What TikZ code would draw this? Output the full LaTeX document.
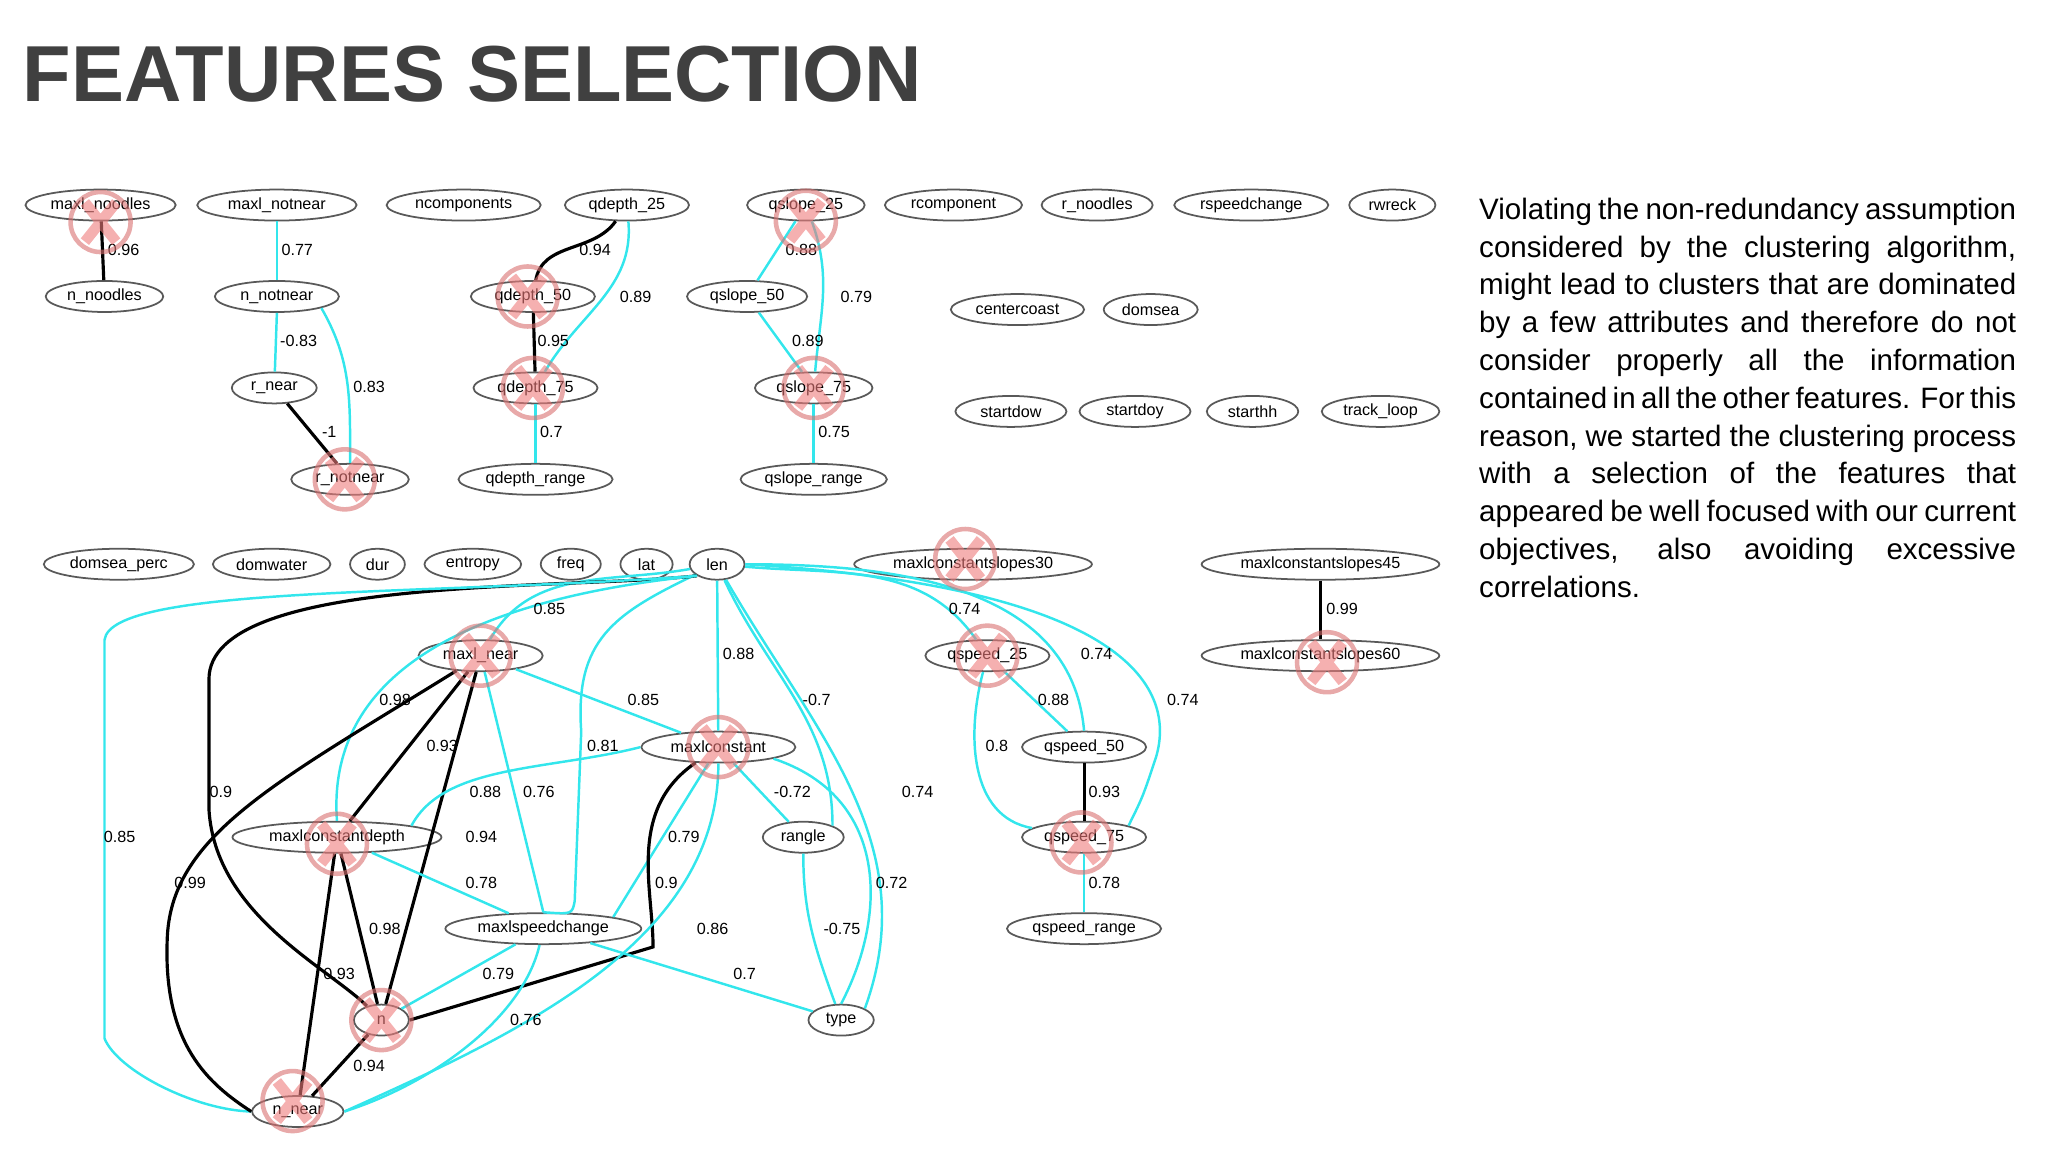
\documentclass[tikz,border=0pt]{standalone}
\usepackage{fontspec}
\setmainfont{Liberation Sans}
\usetikzlibrary{shapes.geometric,positioning,calc}
\definecolor{corr}{HTML}{33E6EC}
\definecolor{titlegray}{HTML}{404040}
\definecolor{xred}{HTML}{EE7B7B}
\definecolor{xring}{HTML}{D97070}
\tikzset{
  feat/.style={ellipse,draw=black!65,line width=0.5pt,inner sep=0pt,
    minimum height=0.31cm,minimum width=#1*0.01306cm,font=\fontsize{4.6}{5}\selectfont},
  feat/.default=60,
  lowcorr/.style={corr,line width=0.7pt},
  highcorr/.style={black,line width=0.9pt},
  lbl/.style={font=\fontsize{4.6}{5}\selectfont,inner sep=0pt,anchor=west},
}
\begin{document}
\begin{tikzpicture}[x=0.01306cm,y=-0.01306cm]
\useasboundingbox (0,0) rectangle (1568,882);
\node[anchor=base west,inner sep=0pt,text=titlegray,font=\fontsize{22.6}{23}\bfseries\selectfont] (title) at (17,78) {FEATURES SELECTION};
\node[anchor=north west,inner sep=0pt,text width=5.37cm,align=justify,
  font=\fontsize{8.4}{10.75}\selectfont] (text) at (1132,151)
  {Violating the non-redundancy assumption\linebreak considered by the clustering algorithm,\linebreak might lead to clusters that are dominated\linebreak by a few attributes and therefore do not\linebreak consider properly all the information\linebreak contained in all the other features. For this\linebreak reason, we started the clustering process\linebreak with a selection of the features that\linebreak appeared be well focused with our current\linebreak objectives, also avoiding excessive\linebreak correlations.};
% first block
\node[feat=115] (maxl_noodles) at (77,157) {maxl\_noodles};
\node[feat=122] (maxl_notnear) at (212,157) {maxl\_notnear};
\node[feat=118] (ncomponents) at (355,157) {ncomponents};
\node[feat=95] (qdepth_25) at (480,157) {qdepth\_25};
\node[feat=90] (qslope_25) at (617,157) {qslope\_25};
\node[feat=105] (rcomponent) at (730,157) {rcomponent};
\node[feat=85] (r_noodles) at (840,157) {r\_noodles};
\node[feat=118] (rspeedchange) at (958,157) {rspeedchange};
\node[feat=66] (rwreck) at (1066,157) {rwreck};
\node[feat=90] (n_noodles) at (80,227) {n\_noodles};
\node[feat=95] (n_notnear) at (212,227) {n\_notnear};
\node[feat=95] (qdepth_50) at (408,227) {qdepth\_50};
\node[feat=92] (qslope_50) at (572,227) {qslope\_50};
\node[feat=102] (centercoast) at (779,237) {centercoast};
\node[feat=72] (domsea) at (881,237) {domsea};
\node[feat=65] (r_near) at (210,297) {r\_near};
\node[feat=95] (qdepth_75) at (410,297) {qdepth\_75};
\node[feat=90] (qslope_75) at (623,297) {qslope\_75};
\node[feat=85] (startdow) at (774,315) {startdow};
\node[feat=85] (startdoy) at (869,315) {startdoy};
\node[feat=70] (starthh) at (959,315) {starthh};
\node[feat=90] (track_loop) at (1057,315) {track\_loop};
\node[feat=90] (r_notnear) at (268,367) {r\_notnear};
\node[feat=118] (qdepth_range) at (410,367) {qdepth\_range};
\node[feat=112] (qslope_range) at (623,367) {qslope\_range};
% second block
\node[feat=115] (domsea_perc) at (91,432) {domsea\_perc};
\node[feat=90] (domwater) at (208,432) {domwater};
\node[feat=42] (dur) at (289,432) {dur};
\node[feat=74] (entropy) at (362,432) {entropy};
\node[feat=46] (freq) at (437,432) {freq};
\node[feat=40] (lat) at (495,432) {lat};
\node[feat=42] (len) at (549,432) {len};
\node[feat=182] (slopes30) at (745,432) {maxlconstantslopes30};
\node[feat=182] (slopes45) at (1011,432) {maxlconstantslopes45};
\node[feat=95] (qspeed_25) at (756,502) {qspeed\_25};
\node[feat=182] (slopes60) at (1011,502) {maxlconstantslopes60};
\node[feat=95] (maxl_near) at (368,502) {maxl\_near};
\node[feat=118] (maxlconstant) at (550,572) {maxlconstant};
\node[feat=95] (qspeed_50) at (830,572) {qspeed\_50};
\node[feat=160] (maxlconstantdepth) at (258,641) {maxlconstantdepth};
\node[feat=62] (rangle) at (615,641) {rangle};
\node[feat=95] (qspeed_75) at (830,641) {qspeed\_75};
\node[feat=150] (maxlspeedchange) at (416,711) {maxlspeedchange};
\node[feat=118] (qspeed_range) at (830,711) {qspeed\_range};
\node[feat=42] (n) at (292,781) {n};
\node[feat=50] (type) at (644,781) {type};
\node[feat=70] (n_near) at (228,851) {n\_near};
% correlations
\draw[highcorr] (maxl_noodles) -- (n_noodles);
\draw[lowcorr] (maxl_notnear) -- (n_notnear);
\draw[lowcorr] (n_notnear.south) -- (r_near);
\draw[lowcorr] (n_notnear.south east) to[out=-60,in=90] (r_notnear.north);
\draw[highcorr] (r_near) -- (r_notnear);
\draw[highcorr] (qdepth_25) to[out=-125,in=80] (qdepth_50);
\draw[lowcorr] (qdepth_25) to[out=-85,in=60] (qdepth_75);
\draw[highcorr] (qdepth_50) -- (qdepth_75);
\draw[lowcorr] (qdepth_75) -- (qdepth_range);
\draw[lowcorr] (qslope_25) -- (qslope_50);
\draw[lowcorr] (qslope_25) to[out=-70,in=85] (qslope_75);
\draw[lowcorr] (qslope_50) -- (qslope_75);
\draw[lowcorr] (qslope_75) -- (qslope_range);
\draw[highcorr] (slopes45) -- (slopes60);
\draw[lowcorr] (len) to[out=-5,in=125] (qspeed_25);
\draw[lowcorr] (len) to[out=0,in=95] (qspeed_50.north);
\draw[lowcorr] (len.east) .. controls (870,450) and (900,530) .. (885,580) .. controls (875,610) .. (qspeed_75.north east);
\draw[lowcorr] (qspeed_25) -- (qspeed_50);
\draw[lowcorr] (qspeed_25) to[out=-105,in=170] (qspeed_75);
\draw[highcorr] (qspeed_50) -- (qspeed_75);
\draw[lowcorr] (qspeed_75) -- (qspeed_range);
\draw[lowcorr] (len) to[out=190,in=60] (maxl_near);
\draw[lowcorr] (len) -- (maxlconstant);
\draw[lowcorr] (len) to[out=-65,in=90] (rangle.north east);
\draw[lowcorr] (len) to[out=-60,in=70] (type.north east);
\draw[lowcorr] (len) .. controls (470,470) and (440,490) .. (445,560) -- (440,690) .. controls (438,700) .. (maxlspeedchange.north);
\draw[highcorr] (len.south west) .. controls (430,452) and (160,440) .. (160,520) -- (160,620) .. controls (165,700) and (250,740) .. (n);
\draw[lowcorr] (len.south west) .. controls (330,456) and (85,448) .. (80,490) -- (80,795) .. controls (90,820) and (150,850) .. (n_near.west);
\draw[lowcorr] (len.south west) .. controls (350,460) and (250,520) .. (maxlconstantdepth.north);
\draw[lowcorr] (maxl_near) -- (maxlconstant);
\draw[highcorr] (maxl_near) -- (maxlconstantdepth);
\draw[highcorr] (maxl_near) -- (n);
\draw[highcorr] (maxl_near) .. controls (210,600) and (130,640) .. (128,720) .. controls (125,800) and (160,830) .. (n_near.west);
\draw[lowcorr] (maxl_near) -- (maxlspeedchange.north);
\draw[lowcorr] (maxlconstant.west) .. controls (420,590) and (340,585) .. (maxlconstantdepth.north east);
\draw[lowcorr] (maxlconstantdepth) -- (maxlspeedchange);
\draw[highcorr] (maxlconstantdepth) -- (n);
\draw[highcorr] (maxlconstantdepth) -- (n_near);
\draw[lowcorr] (maxlconstant) -- (maxlspeedchange.north east);
\draw[highcorr] (maxlconstant) .. controls (480,620) and (500,680) .. (500,725) -- (n.east);
\draw[lowcorr] (maxlconstant) .. controls (550,720) and (400,790) .. (n_near.east);
\draw[lowcorr] (maxlconstant) -- (rangle);
\draw[lowcorr] (maxlconstant.south east) .. controls (680,610) and (680,700) .. (type.north);
\draw[lowcorr] (maxlspeedchange) -- (n);
\draw[lowcorr] (maxlspeedchange) .. controls (400,780) and (330,830) .. (n_near.east);
\draw[lowcorr] (maxlspeedchange) -- (type);
\draw[lowcorr] (rangle) to[out=-90,in=110] (type);
\draw[highcorr] (n) -- (n_near);
% values
\foreach \v/\x/\y in {0.96/82/191, 0.77/215/191, -0.83/214/261, 0.83/270/296, -1/246/331,
  0.94/443/191, 0.89/474/227, 0.95/411/261, 0.7/413/331, 0.88/601/191, 0.79/643/227,
  0.89/606/261, 0.75/626/331, 0.99/1015/466, 0.74/726/466, 0.74/827/501, 0.74/893/536,
  0.88/794/536, 0.8/754/571, 0.93/833/606, 0.78/833/676, 0.85/408/466, 0.88/553/501,
  -0.7/614/536, 0.74/690/606, 0.81/449/571, 0.9/160/606, 0.85/79/641, 0.98/290/536,
  0.85/480/536, 0.93/326/571, 0.88/359/606, 0.76/400/606, 0.94/356/641, 0.79/511/641,
  -0.72/592/606, 0.99/133/676, 0.78/356/676, 0.9/501/676, 0.72/670/676, 0.98/282/711,
  0.86/533/711, -0.75/630/711, 0.93/247/746, 0.79/369/746, 0.7/561/746, 0.76/390/781,
  0.94/270/816}
  \node[lbl] at (\x,\y) {\v};
% removed features
\foreach \c/\dx/\dy in {maxl_noodles/0/13, qslope_25/0/12, qdepth_50/-4/0, qdepth_75/-2/0,
  qslope_75/0/0, r_notnear/-4/0, slopes30/-6/-4, maxl_near/0/0, qspeed_25/0/0,
  slopes60/5/5, maxlconstant/0/0, maxlconstantdepth/0/5, qspeed_75/-2/4, n/0/0, n_near/-4/-8}
  {
  \draw[xring,line width=1.3pt,opacity=0.6] ($(\c)+(\dx,\dy)$) circle[radius=0.3cm];
  \draw[xred,line width=3pt,opacity=0.6] ($(\c)+(\dx,\dy)+(-12,-15)$) -- ($(\c)+(\dx,\dy)+(12,15)$)
    ($(\c)+(\dx,\dy)+(-12,15)$) -- ($(\c)+(\dx,\dy)+(12,-15)$);
  }
\end{tikzpicture}
\end{document}
